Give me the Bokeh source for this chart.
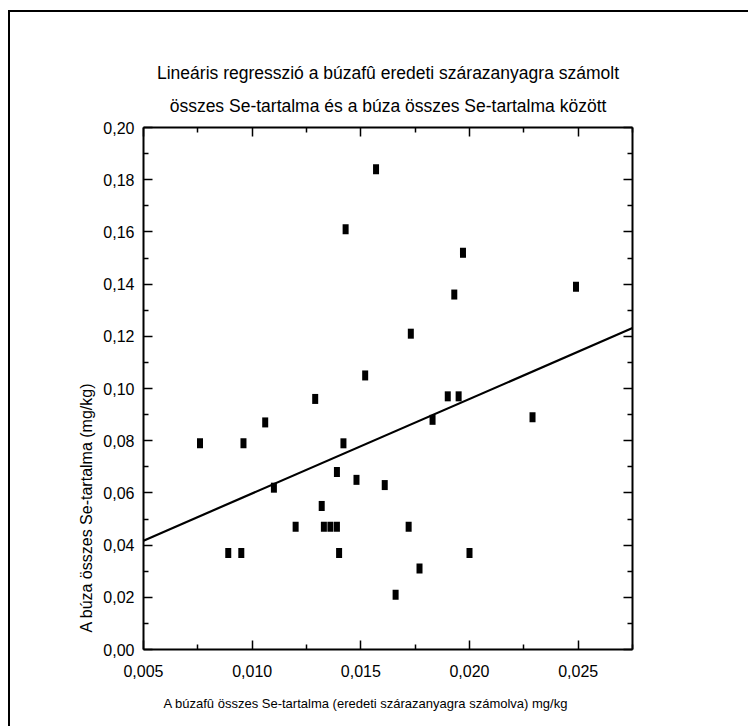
from bokeh.plotting import figure
from bokeh.models import Range1d, FixedTicker, LinearAxis, Title, CustomJSTickFormatter
from bokeh.embed import file_html
from bokeh.resources import INLINE

# ---------------- data ----------------
title_line1 = "Lineáris regresszió a búzafû eredeti szárazanyagra számolt"
title_line2 = "összes Se-tartalma és a búza összes Se-tartalma között"
x_title = "A búzafû összes Se-tartalma (eredeti szárazanyagra számolva) mg/kg"
y_title = "A búza összes Se-tartalma (mg/kg)"

plant_se = [0.0157, 0.0143, 0.0197, 0.0193, 0.0249, 0.0173, 0.0152, 0.0129,
            0.0190, 0.0195, 0.0106, 0.0183, 0.0229, 0.0076, 0.0096, 0.0142,
            0.0139, 0.0148, 0.0161, 0.0110, 0.0132, 0.0120, 0.0133, 0.0136,
            0.0139, 0.0172, 0.0089, 0.0095, 0.0140, 0.0200, 0.0177, 0.0166]
grain_se = [0.184, 0.161, 0.152, 0.136, 0.139, 0.121, 0.105, 0.096,
            0.097, 0.097, 0.087, 0.088, 0.089, 0.079, 0.079, 0.079,
            0.068, 0.065, 0.063, 0.062, 0.055, 0.047, 0.047, 0.047,
            0.047, 0.047, 0.037, 0.037, 0.037, 0.037, 0.031, 0.021]

fit_intercept = 0.0236
fit_slope = 3.62

x_ticks = [0.005, 0.010, 0.015, 0.020, 0.025]
x_tick_labels = ["0,005", "0,010", "0,015", "0,020", "0,025"]
x_minor_ticks = [0.0075, 0.0125, 0.0175, 0.0225, 0.0275]
y_ticks = [0.00, 0.02, 0.04, 0.06, 0.08, 0.10, 0.12, 0.14, 0.16, 0.18, 0.20]
y_tick_labels = ["0,00", "0,02", "0,04", "0,06", "0,08", "0,10", "0,12",
                 "0,14", "0,16", "0,18", "0,20"]
y_minor_ticks = [0.01, 0.03, 0.05, 0.07, 0.09, 0.11, 0.13, 0.15, 0.17, 0.19]

x_min, x_max = 0.005, 0.0275
y_min, y_max = 0.0, 0.20

# ---------------- style ----------------
FONT = "Liberation Sans"

p = figure(width=748, height=726, x_range=Range1d(x_min, x_max), y_range=Range1d(y_min, y_max),
           output_backend="svg", toolbar_location=None,
           min_border_left=143, min_border_right=116,
           min_border_top=127, min_border_bottom=77,
           styles={"background-color": "white",
                   "background-image": "linear-gradient(black, black), linear-gradient(black, black)",
                   "background-size": "2px 716px, 740px 2px",
                   "background-position": "8px 10px, 8px 10px",
                   "background-repeat": "no-repeat"})
p.xgrid.visible = False
p.ygrid.visible = False
p.outline_line_color = None
p.background_fill_color = "white"
p.border_fill_color = None

fmt_code = """
let best = 0;
for (let i = 0; i < tvals.length; i++) {
  if (Math.abs(tvals[i] - tick) < Math.abs(tvals[best] - tick)) best = i;
}
return tlabels[best];
"""

def style_axis(ax, ticks, minor, labels, show_labels):
    ax.ticker = FixedTicker(ticks=ticks, minor_ticks=minor)
    if show_labels:
        ax.formatter = CustomJSTickFormatter(args=dict(tvals=ticks, tlabels=labels), code=fmt_code)
        ax.major_label_text_font_size = "16px"
    else:
        ax.formatter = CustomJSTickFormatter(code="return '';")
        ax.major_label_text_font_size = "0px"
        ax.major_label_standoff = 0
    ax.axis_line_width = 2
    ax.axis_line_color = "black"
    ax.major_tick_in = 9
    ax.major_tick_out = 0
    ax.minor_tick_in = 5
    ax.minor_tick_out = 0
    ax.major_tick_line_width = 1.5
    ax.minor_tick_line_width = 1.5
    ax.major_tick_line_color = "black"
    ax.minor_tick_line_color = "black"
    ax.major_label_text_font = FONT
    ax.major_label_text_color = "black"
    ax.axis_label = None

style_axis(p.xaxis[0], x_ticks, x_minor_ticks, x_tick_labels, True)
style_axis(p.yaxis[0], y_ticks, y_minor_ticks, y_tick_labels, True)
p.xaxis[0].major_label_standoff = 15
p.yaxis[0].major_label_standoff = 9

top_ax = LinearAxis()
right_ax = LinearAxis()
style_axis(top_ax, x_ticks, x_minor_ticks, x_tick_labels, False)
style_axis(right_ax, y_ticks, y_minor_ticks, y_tick_labels, False)
p.add_layout(top_ax, "above")
p.add_layout(right_ax, "right")

# titles (line 2 nearest the plot, line 1 above it)
p.add_layout(Title(text=title_line2, align="center", standoff=23,
                   text_font=FONT, text_font_size="17.5px", text_font_style="normal",
                   text_color="black"), "above")
p.add_layout(Title(text=title_line1, align="center", standoff=0,
                   text_font=FONT, text_font_size="17.5px", text_font_style="normal",
                   text_color="black"), "above")

# axis titles
p.add_layout(Title(text=x_title, align="left", offset=20, standoff=28,
                   text_font=FONT, text_font_size="13px", text_font_style="normal",
                   text_color="black"), "below")
p.add_layout(Title(text=y_title, align="left", offset=17, standoff=11,
                   text_font=FONT, text_font_size="16px", text_font_style="normal",
                   text_color="black"), "left")

# regression line
fit_x = [x_min, x_max]
fit_y = [fit_intercept + fit_slope * v for v in fit_x]
p.line(fit_x, fit_y, line_color="black", line_width=2.2)

# points
p.rect(plant_se, grain_se, width=6, height=10, width_units="screen", height_units="screen",
       fill_color="black", line_color="black", line_width=0)

open("out.html", "w").write(file_html(p, INLINE))
